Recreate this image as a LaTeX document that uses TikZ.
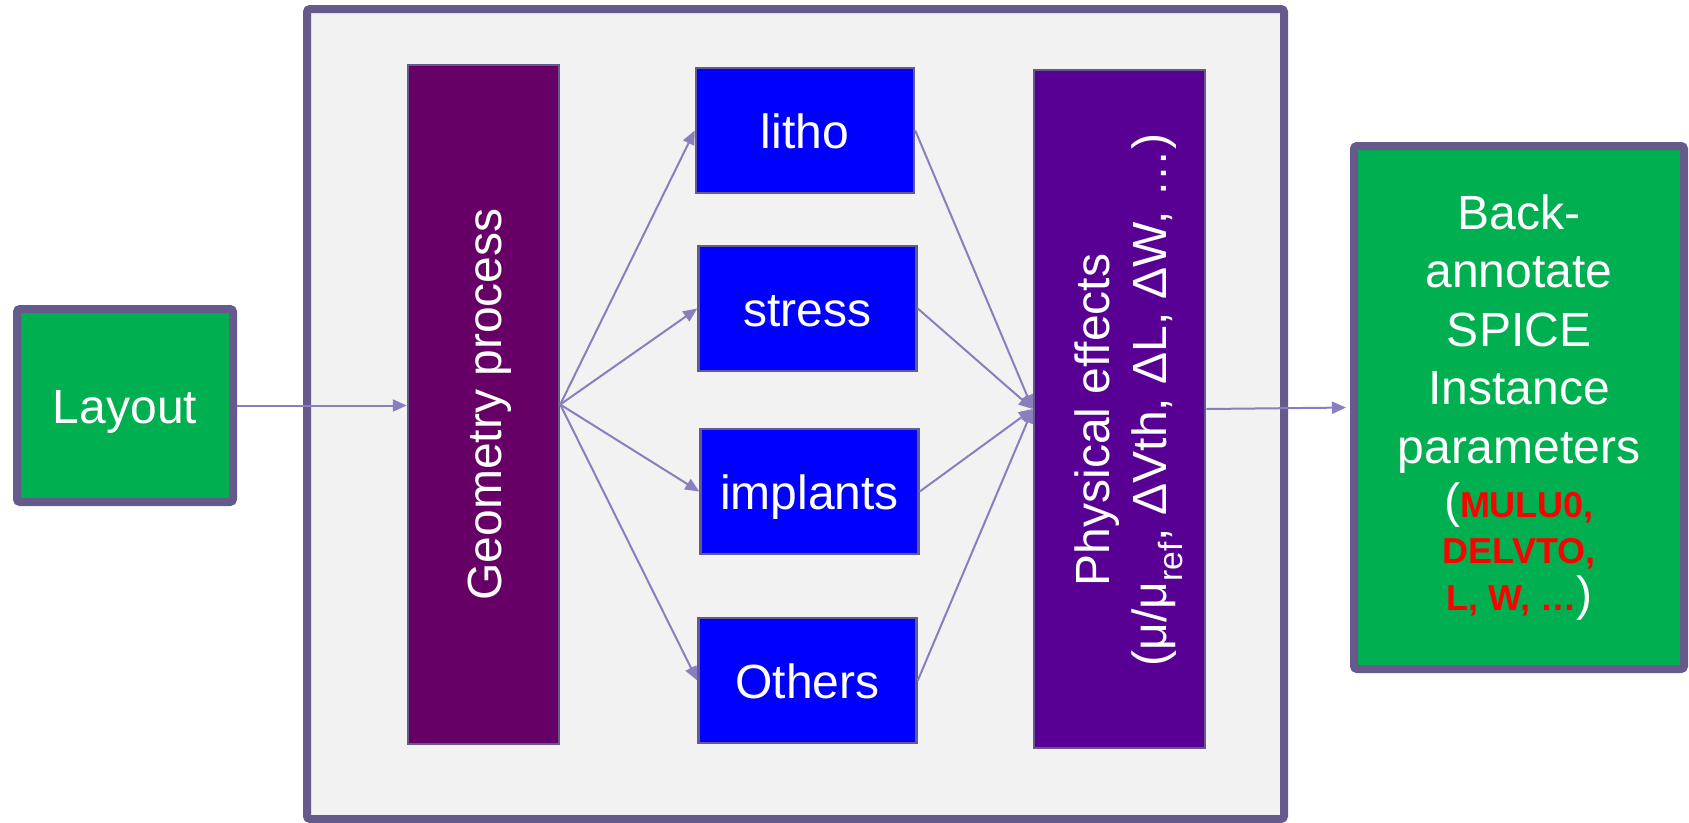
\documentclass[tikz,border=0pt]{standalone}
\usepackage{graphicx}
\usepackage{fontspec}
\setmainfont{Liberation Sans}
\usetikzlibrary{arrows.meta}

\definecolor{edge}{RGB}{102,90,140}
\definecolor{flow}{RGB}{137,126,190}
\definecolor{panel}{RGB}{242,242,242}
\definecolor{geofill}{RGB}{102,0,102}
\definecolor{physfill}{RGB}{89,0,148}
\definecolor{procfill}{RGB}{0,0,255}
\definecolor{leaf}{RGB}{0,176,80}
\definecolor{param}{RGB}{255,0,0}

\newcommand\bigparen[1]{{\fontsize{48}{58.5}\selectfont #1}}
\newcommand\redparam[1]{\textcolor{param}{\bfseries #1}}
% vertical label whose baseline sits a fixed distance right of the centre
\newcommand\uplabel[1]{\rotatebox{90}{\smash{#1}\rule{0pt}{35pt}}}

\begin{document}
\begin{tikzpicture}[x=1pt, y=-1pt,
  font=\fontsize{48}{57.6}\selectfont,
  linetext/.style={text height=36pt, text depth=0pt},
  bigbox/.style={draw=edge, line width=8pt, rounded corners=3pt, fill=leaf,
    text=white, inner sep=0pt},
  block/.style={draw=edge, line width=2.5pt, text=white, inner sep=0pt},
  procbox/.style={block, linetext, fill=procfill, minimum width=218pt, minimum height=125pt},
  flowarrow/.style={draw=flow, line width=2pt, -{Triangle[length=14pt,width=12pt]}}]

\useasboundingbox (0,0) rectangle (1689,822);

% grey panel holding the process chain
\node[draw=edge, line width=8pt, fill=panel, rounded corners=3pt,
      minimum width=977pt, minimum height=810pt, inner sep=0pt] (frame) at (795.5,414) {};

% input
\node[bigbox, linetext, minimum width=216pt, minimum height=193pt] (layout) at (125,405.5) {Layout};

% geometry processing
\node[block, fill=geofill, minimum width=151pt, minimum height=679pt] (geom) at (483.5,404.5)
  {\uplabel{Geometry process}};

% individual effects
\node[procbox] (litho)    at (805,130.5)   {litho};
\node[procbox] (stress)   at (807.5,308.5) {stress};
\node[procbox] (implants) at (809.5,491.5) {implants};
\node[procbox] (others)   at (807.5,680.5) {Others};

% combined physical effects
\node[block, fill=physfill, minimum width=171pt, minimum height=678pt] (phys) at (1119.5,409)
  {\hspace*{14pt}\rotatebox{90}{\begin{tabular}{@{}c@{}}Physical effects\hspace*{22pt}\\[0pt]
   \hspace*{18pt}(μ/μ\textsubscript{ref}, ΔVth, ΔL, ΔW, …)\end{tabular}}};

% output
\node[bigbox, minimum width=330pt, minimum height=523pt, text width=320pt, align=flush center]
  (annot) at (1519,407.5)
  {\fontsize{48}{58.5}\selectfont
   Back-\par annotate\par SPICE\par Instance\par parameters\par
   \vspace{7.5pt}\fontsize{36}{46.5}\selectfont
   \bigparen{(}\redparam{MULU0,}\par
   \redparam{DELVTO,}\par
   \redparam{L, W, …}\bigparen{)}\par};

% connectors
\draw[flowarrow] (layout.east) -- (layout.east -| geom.west);
\foreach \t in {litho,stress,implants,others}
  \draw[flowarrow] (geom.east) -- (\t.west);
\foreach \t in {litho,stress,implants,others}
  \draw[flowarrow] (\t.east) -- (phys.west);
\draw[flowarrow, shorten >=4pt] (phys.east) -- (annot.west);

\end{tikzpicture}
\end{document}
